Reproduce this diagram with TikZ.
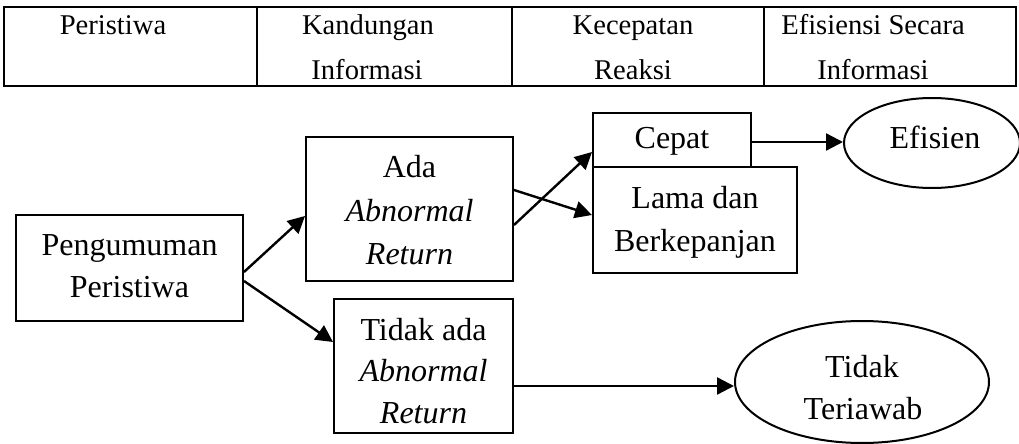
\documentclass[tikz,border=0pt]{standalone}
\usepackage{fontspec}
\setmainfont{Liberation Serif}
\usetikzlibrary{arrows.meta,shapes.geometric}
\begin{document}
\begin{tikzpicture}[x=0.5pt,y=-0.5pt,
  tline/.style={line width=1pt},
  tcell/.style={anchor=base,font=\fontsize{14.3}{17}\selectfont,inner sep=0pt},
  box/.style={draw,line width=1pt,inner sep=0pt},
  oval/.style={draw,ellipse,line width=1pt,inner sep=0pt},
  txt/.style={anchor=base,font=\fontsize{16}{19}\selectfont,inner sep=0pt},
  arr/.style={line width=1.2pt,-{Triangle[length=8.5pt,width=8.5pt]}}]
\useasboundingbox (0,0) rectangle (1019,444);
% table
\draw[tline] (4,7) rectangle (1016,86);
\draw[tline] (257,7) -- (257,86) (512,7) -- (512,86) (764,7) -- (764,86);
\node[tcell] (t1) at (113,35) {Peristiwa};
\node[tcell] (t2) at (368,35) {Kandungan};
\node[tcell] (t3) at (367,80) {Informasi};
\node[tcell] (t4) at (633,35) {Kecepatan};
\node[tcell] (t5) at (633,80) {Reaksi};
\node[tcell] (t6) at (873,35) {Efisiensi Secara};
\node[tcell] (t7) at (873,80) {Informasi};
% boxes
\node[box,minimum width=113.5pt,minimum height=53pt] (pg) at (129.5,268) {};
\node[box,minimum width=103.5pt,minimum height=72pt] (ada) at (409.5,209) {};
\node[box,minimum width=89.5pt,minimum height=67pt] (tdk) at (423.5,366) {};
\node[box,minimum width=79pt,minimum height=27pt] (cep) at (672,140) {};
\node[box,minimum width=102pt,minimum height=53pt] (lam) at (695,220) {};
\node[oval,minimum width=88pt,minimum height=45pt] (ef) at (932,143) {};
\node[oval,minimum width=127pt,minimum height=61pt] (tt) at (862,382) {};
% texts
\node[txt] (x1) at (129.5,256) {Pengumuman};
\node[txt] (x2) at (129.5,298) {Peristiwa};
\node[txt] (x3) at (409.5,178) {Ada};
\node[txt] (x4) at (409.5,221) {\textit{Abnormal}};
\node[txt] (x5) at (409.5,264) {\textit{Return}};
\node[txt] (x6) at (423.5,341) {Tidak ada};
\node[txt] (x7) at (423.5,381) {\textit{Abnormal}};
\node[txt] (x8) at (423.5,423) {\textit{Return}};
\node[txt] (x9) at (672,149) {Cepat};
\node[txt] (x10) at (695,209) {Lama dan};
\node[txt] (x11) at (695,251) {Berkepanjan};
\node[txt] (x12) at (935,149) {Efisien};
\node[txt] (x13) at (862,378) {Tidak};
\node[txt] (x14) at (863,419) {Teriawab};
% arrows
\draw[arr] (pg.east |- 0,272) -- (ada.west |- 0,216);
\draw[arr] (pg.east |- 0,281) -- (tdk.west |- 0,342);
\draw[arr] (ada.east |- 0,190) -- (lam.west |- 0,215);
\draw[arr] (ada.east |- 0,225) -- (cep.west |- 0,152);
\draw[arr] (cep.east |- 0,142) -- (ef.west |- 0,142);
\draw[arr] (tdk.east |- 0,386) -- (tt.west |- 0,386);
\end{tikzpicture}
\end{document}
